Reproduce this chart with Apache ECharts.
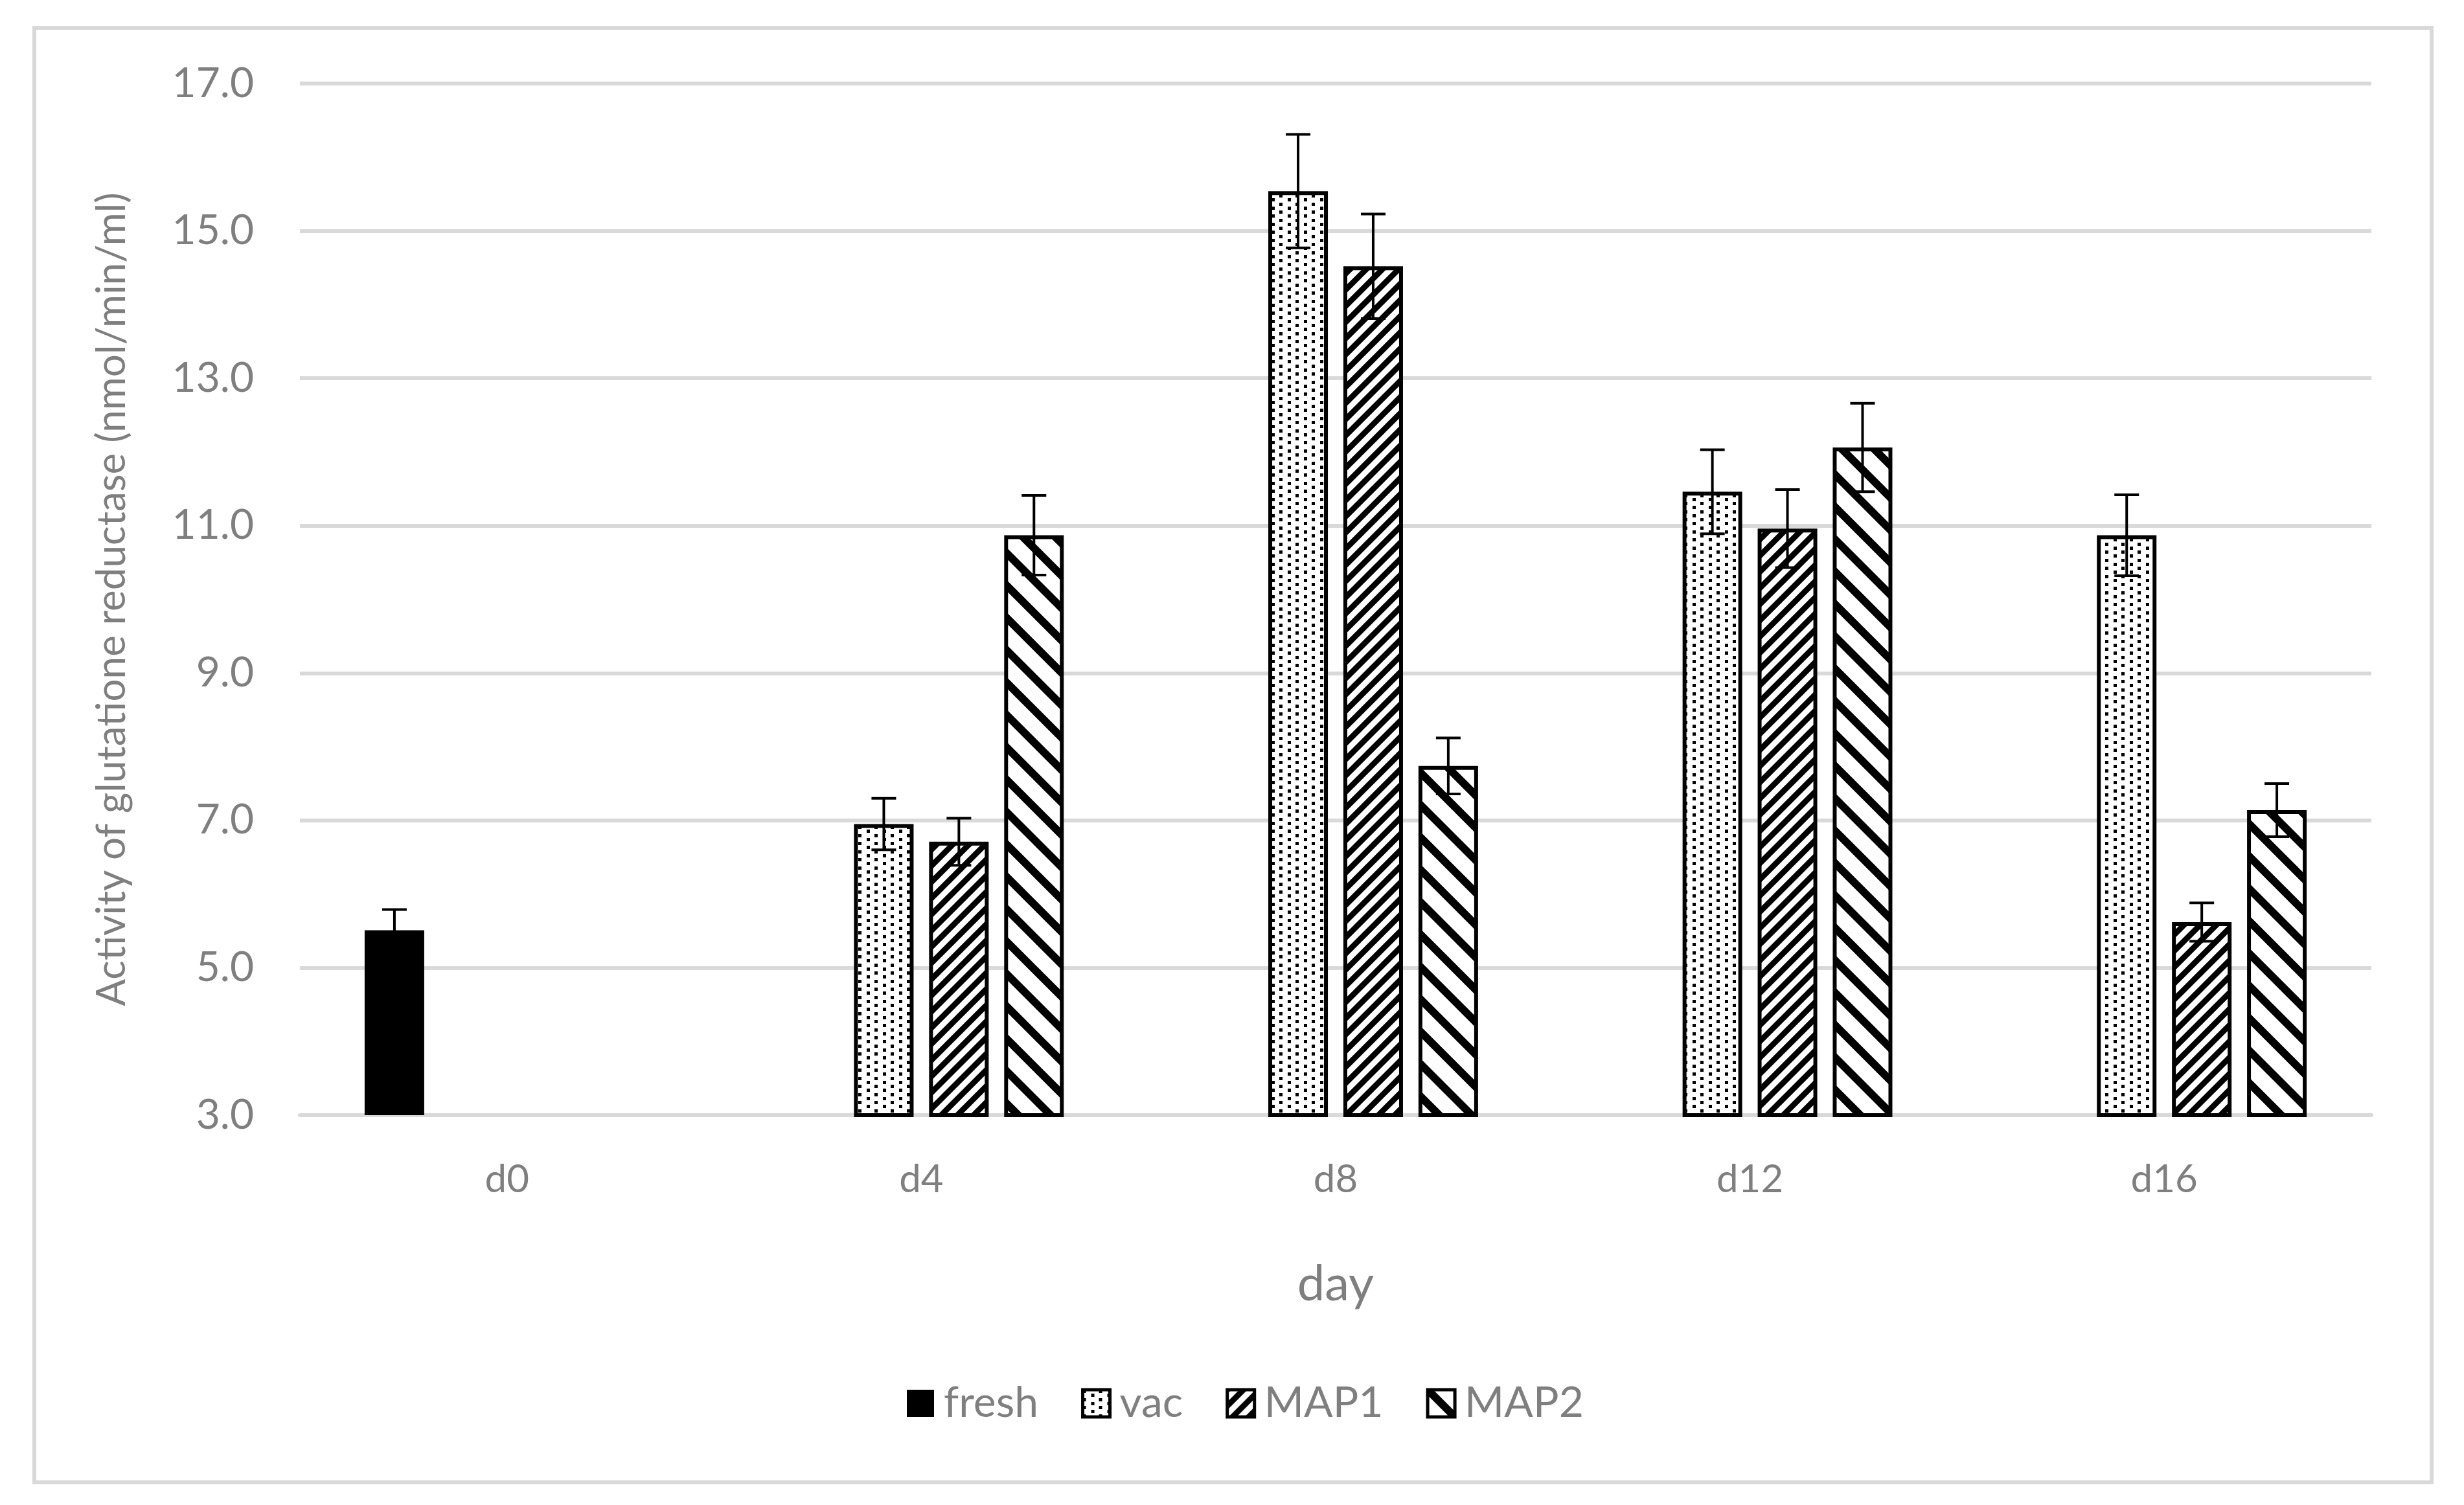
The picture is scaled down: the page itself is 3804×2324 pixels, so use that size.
<!DOCTYPE html>
<html>
<head>
<meta charset="utf-8">
<script src="https://cdn.jsdelivr.net/npm/echarts@6/dist/echarts.min.js"></script>
<style>
html,body{margin:0;padding:0;background:#fff;}
#chart{width:3804px;height:2324px;}
</style>
</head>
<body>
<div id="chart"></div>
<script>
// ---- data ----
const categories = ['d0', 'd4', 'd8', 'd12', 'd16'];
const seriesNames = ['fresh', 'vac', 'MAP1', 'MAP2'];
const freshValues = [5.51, null, null, null, null];
const vacValues = [null, 6.95, 15.54, 11.46, 10.87];
const map1Values = [null, 6.71, 14.52, 10.96, 5.62];
const map2Values = [null, 10.87, 7.74, 12.06, 7.14];
const freshErr = [0.28, null, null, null, null];
const vacErr = [null, 0.35, 0.77, 0.57, 0.55];
const map1Err = [null, 0.32, 0.71, 0.53, 0.26];
const map2Err = [null, 0.54, 0.38, 0.60, 0.36];
const yTicks = {min: 3, max: 17, interval: 2};
const yAxisTitle = 'Activity of glutatione reductase (nmol/min/ml)';
const xAxisTitle = 'day';

// ---- styles ----
const TEXT = '#7f7f7f';
const GRID = '#d9d9d9';
const FONT = 'Lato';
const BAR_W = 92;
const GAP_RATIO = 0.26;

function makeDots() {
  const c = document.createElement('canvas');
  c.width = 50; c.height = 25;
  const g = c.getContext('2d');
  g.fillStyle = '#fff'; g.fillRect(0, 0, 50, 25);
  g.fillStyle = '#000';
  for (let r = 0; r < 4; r++) {
    for (let k = 0; k < 4; k++) {
      if ((r + k) % 2 === 0) {
        g.fillRect(Math.round(k * 12.5), Math.round(r * 6.25), 5, 5);
      }
    }
  }
  return c;
}
function makeUpDiag(S, w) {
  const c = document.createElement('canvas');
  c.width = S; c.height = S;
  const g = c.getContext('2d');
  g.fillStyle = '#fff'; g.fillRect(0, 0, S, S);
  g.strokeStyle = '#000'; g.lineWidth = w; g.lineCap = 'square';
  [[-S, S, S, -S], [-S, 2 * S, 2 * S, -S], [0, 2 * S, 2 * S, 0]].forEach(l => {
    g.beginPath(); g.moveTo(l[0], l[1]); g.lineTo(l[2], l[3]); g.stroke();
  });
  return c;
}
function makeDownDiag(S, w) {
  const c = document.createElement('canvas');
  c.width = S; c.height = S;
  const g = c.getContext('2d');
  g.fillStyle = '#fff'; g.fillRect(0, 0, S, S);
  g.strokeStyle = '#000'; g.lineWidth = w; g.lineCap = 'square';
  [[-S, -S, 2 * S, 2 * S], [0, -S, 2 * S, S], [-S, 0, S, 2 * S]].forEach(l => {
    g.beginPath(); g.moveTo(l[0], l[1]); g.lineTo(l[2], l[3]); g.stroke();
  });
  return c;
}

const fills = [
  '#000000',
  {image: makeDots(), repeat: 'repeat'},
  {image: makeUpDiag(25, 8.8), repeat: 'repeat'},
  {image: makeDownDiag(50, 12), repeat: 'repeat'}
];
const valueSets = [freshValues, vacValues, map1Values, map2Values];
const errSets = [freshErr, vacErr, map1Err, map2Err];

const barSeries = seriesNames.map((name, i) => ({
  name: name,
  type: 'bar',
  data: valueSets[i].map(v => v === null ? '-' : v),
  barWidth: BAR_W,
  barGap: (GAP_RATIO * 100) + '%',
  itemStyle: {
    color: fills[i],
    borderColor: '#000',
    borderWidth: i === 0 ? 0 : 6
  },
  emphasis: {disabled: true},
  z: 2
}));

const errSeries = seriesNames.map((name, i) => ({
  name: name + ' error',
  type: 'custom',
  z: 5,
  silent: true,
  data: valueSets[i].map((v, k) => v === null ? null : [k, v, errSets[i][k]]).filter(d => d),
  encode: {x: 0, y: 1},
  renderItem: function (params, api) {
    const k = api.value(0), v = api.value(1), e = api.value(2);
    const offset = (i - 1.5) * (BAR_W + BAR_W * GAP_RATIO);
    const c = api.coord([k, v]);
    const top = api.coord([k, v + e]);
    const bot = api.coord([k, v - e]);
    const x = c[0] + offset;
    const half = 19;
    const st = {stroke: '#000', lineWidth: 4};
    return {
      type: 'group',
      children: [
        {type: 'line', shape: {x1: x, y1: top[1], x2: x, y2: bot[1]}, style: st},
        {type: 'line', shape: {x1: x - half, y1: top[1], x2: x + half, y2: top[1]}, style: st},
        {type: 'line', shape: {x1: x - half, y1: bot[1], x2: x + half, y2: bot[1]}, style: st}
      ]
    };
  }
}));

const chart = echarts.init(document.getElementById('chart'), null, {renderer: 'canvas'});
chart.setOption({
  animation: false,
  backgroundColor: '#ffffff',
  textStyle: {fontFamily: FONT},
  graphic: [{
    type: 'rect',
    left: 50, top: 40,
    shape: {width: 3701, height: 2246},
    style: {fill: 'none', stroke: GRID, lineWidth: 6},
    silent: true,
    z: -1
  }],
  grid: {left: 463, right: 143, top: 129, bottom: 602, containLabel: false},
  legend: {
    data: seriesNames.map((n, i) => ({
      name: n,
      icon: 'rect',
      itemStyle: {borderColor: '#000', borderWidth: i === 0 ? 0 : 5}
    })),
    left: 1395,
    top: 2129,
    itemWidth: 42,
    itemHeight: 42,
    itemGap: 66,
    textStyle: {fontSize: 66, color: TEXT, fontFamily: FONT, padding: [0, 0, 0, 10]},
    selectedMode: false
  },
  xAxis: {
    type: 'category',
    data: categories,
    axisLine: {show: true, lineStyle: {color: GRID, width: 6}},
    axisTick: {show: false},
    axisLabel: {fontSize: 60, color: TEXT, fontFamily: FONT, margin: 70},
    name: xAxisTitle,
    nameLocation: 'middle',
    nameGap: 223,
    nameTextStyle: {fontSize: 76, color: TEXT, fontFamily: FONT}
  },
  yAxis: {
    type: 'value',
    min: yTicks.min,
    max: yTicks.max,
    interval: yTicks.interval,
    axisLine: {show: false},
    axisTick: {show: false},
    splitLine: {lineStyle: {color: GRID, width: 6}},
    axisLabel: {fontSize: 64, color: TEXT, fontFamily: FONT, margin: 71,
      formatter: v => v.toFixed(1)},
    name: yAxisTitle,
    nameLocation: 'middle',
    nameRotate: 90,
    nameGap: 259,
    nameTextStyle: {fontSize: 62, color: TEXT, fontFamily: FONT}
  },
  series: barSeries.concat(errSeries)
});
</script>
</body>
</html>
